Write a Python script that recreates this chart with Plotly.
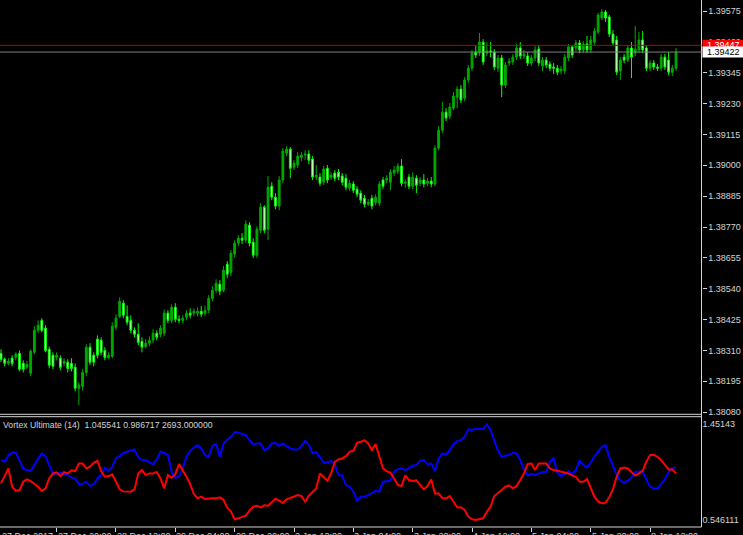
import plotly.graph_objects as go

W, H = 743, 535

# ---------------- data (EURUSD-like price) ----------------
opens = [1.38299,1.38277,1.38262,1.38281,1.38284,1.38299,1.38262,1.38247,1.38225,1.38303,
1.38385,1.38422,1.38393,1.38314,1.38292,1.38284,1.38281,1.38262,1.38266,1.38262,
1.38247,1.38169,1.38176,1.38228,1.38322,1.38292,1.38352,1.38348,1.38310,1.38284,
1.38288,1.38396,1.38437,1.38486,1.38437,1.38422,1.38385,1.38370,1.38344,1.38325,
1.38337,1.38348,1.38374,1.38370,1.38374,1.38449,1.38422,1.38471,1.38426,1.38422,
1.38434,1.38449,1.38449,1.38449,1.38456,1.38449,1.38460,1.38504,1.38534,1.38557,
1.38534,1.38631,1.38601,1.38669,1.38710,1.38728,1.38721,1.38777,1.38713,1.38665,
1.38758,1.38844,1.38762,1.38922,1.38881,1.38848,1.38945,1.39045,1.39060,1.38993,
1.39001,1.39030,1.39038,1.39042,1.39023,1.38956,1.38956,1.38937,1.38989,1.38956,
1.38971,1.38974,1.38960,1.38952,1.38915,1.38930,1.38911,1.38896,1.38877,1.38855,
1.38877,1.38862,1.38859,1.38945,1.38945,1.38937,1.38971,1.38978,1.38997,1.38933,
1.38956,1.38922,1.38952,1.38933,1.38945,1.38933,1.38941,1.38930,1.39064,1.39131,
1.39198,1.39183,1.39213,1.39254,1.39284,1.39250,1.39318,1.39362,1.39422,1.39418,
1.39459,1.39418,1.39426,1.39422,1.39362,1.39400,1.39299,1.39381,1.39385,1.39403,
1.39437,1.39407,1.39407,1.39381,1.39400,1.39433,1.39370,1.39392,1.39377,1.39366,
1.39362,1.39351,1.39351,1.39400,1.39441,1.39437,1.39456,1.39430,1.39452,1.39430,
1.39459,1.39497,1.39549,1.39571,1.39553,1.39489,1.39467,1.39351,1.39403,1.39392,
1.39437,1.39418,1.39430,1.39467,1.39437,1.39362,1.39381,1.39366,1.39362,1.39403,
1.39392,1.39347,1.39362]

highs = [1.38314,1.38284,1.38281,1.38292,1.38303,1.38310,1.38273,1.38270,1.38314,1.38400,
1.38422,1.38430,1.38404,1.38325,1.38303,1.38303,1.38292,1.38281,1.38277,1.38281,
1.38262,1.38191,1.38240,1.38333,1.38337,1.38303,1.38366,1.38359,1.38322,1.38303,
1.38415,1.38445,1.38508,1.38497,1.38478,1.38441,1.38396,1.38411,1.38359,1.38352,
1.38363,1.38389,1.38385,1.38404,1.38463,1.38460,1.38482,1.38486,1.38441,1.38441,
1.38460,1.38467,1.38467,1.38471,1.38475,1.38478,1.38516,1.38549,1.38575,1.38572,
1.38624,1.38643,1.38684,1.38721,1.38739,1.38747,1.38795,1.38788,1.38728,1.38773,
1.38859,1.38851,1.38960,1.38937,1.38896,1.38960,1.39064,1.39071,1.39068,1.39019,
1.39049,1.39049,1.39056,1.39056,1.39034,1.39001,1.38971,1.38997,1.39001,1.38974,
1.38982,1.38986,1.38971,1.38967,1.38945,1.38941,1.38922,1.38907,1.38889,1.38874,
1.38889,1.38892,1.38941,1.38956,1.38963,1.38986,1.38997,1.39008,1.39023,1.38948,
1.38967,1.38974,1.38963,1.38956,1.38967,1.38952,1.38956,1.39075,1.39146,1.39236,
1.39213,1.39232,1.39273,1.39295,1.39299,1.39329,1.39374,1.39430,1.39444,1.39493,
1.39470,1.39459,1.39459,1.39433,1.39411,1.39411,1.39385,1.39400,1.39415,1.39452,
1.39459,1.39430,1.39422,1.39411,1.39444,1.39448,1.39403,1.39403,1.39388,1.39381,
1.39374,1.39370,1.39415,1.39452,1.39448,1.39467,1.39467,1.39463,1.39482,1.39482,
1.39512,1.39568,1.39582,1.39579,1.39560,1.39504,1.39482,1.39403,1.39415,1.39448,
1.39459,1.39519,1.39497,1.39500,1.39448,1.39392,1.39392,1.39377,1.39415,1.39415,
1.39422,1.39374,1.39437]

lows = [1.38266,1.38251,1.38255,1.38251,1.38273,1.38232,1.38228,1.38240,1.38214,1.38296,
1.38374,1.38378,1.38303,1.38243,1.38240,1.38273,1.38236,1.38251,1.38228,1.38232,
1.38158,1.38105,1.38161,1.38214,1.38255,1.38251,1.38281,1.38292,1.38273,1.38277,
1.38281,1.38385,1.38430,1.38430,1.38404,1.38374,1.38359,1.38329,1.38303,1.38318,
1.38325,1.38337,1.38348,1.38359,1.38363,1.38411,1.38411,1.38415,1.38411,1.38411,
1.38422,1.38430,1.38437,1.38437,1.38434,1.38437,1.38449,1.38493,1.38523,1.38516,
1.38527,1.38579,1.38587,1.38657,1.38698,1.38706,1.38710,1.38698,1.38654,1.38654,
1.38747,1.38747,1.38721,1.38870,1.38836,1.38833,1.38933,1.39034,1.38952,1.38982,
1.38989,1.39015,1.39019,1.39004,1.38945,1.38945,1.38922,1.38926,1.38933,1.38945,
1.38941,1.38945,1.38926,1.38907,1.38904,1.38896,1.38881,1.38859,1.38844,1.38848,
1.38836,1.38851,1.38848,1.38911,1.38933,1.38907,1.38960,1.38967,1.38922,1.38918,
1.38911,1.38911,1.38896,1.38922,1.38918,1.38922,1.38918,1.38922,1.39056,1.39120,
1.39165,1.39172,1.39206,1.39213,1.39232,1.39239,1.39306,1.39351,1.39400,1.39407,
1.39374,1.39407,1.39403,1.39355,1.39347,1.39254,1.39288,1.39370,1.39374,1.39392,
1.39396,1.39396,1.39370,1.39370,1.39388,1.39370,1.39351,1.39362,1.39351,1.39340,
1.39336,1.39340,1.39340,1.39388,1.39400,1.39426,1.39418,1.39418,1.39418,1.39418,
1.39448,1.39489,1.39541,1.39534,1.39478,1.39444,1.39336,1.39318,1.39381,1.39385,
1.39325,1.39407,1.39418,1.39418,1.39351,1.39351,1.39355,1.39351,1.39351,1.39355,
1.39336,1.39333,1.39351]

closes = [1.38277,1.38262,1.38270,1.38262,1.38296,1.38240,1.38240,1.38258,1.38307,1.38385,
1.38404,1.38385,1.38310,1.38255,1.38251,1.38292,1.38247,1.38270,1.38243,1.38243,
1.38169,1.38180,1.38228,1.38322,1.38266,1.38266,1.38292,1.38303,1.38284,1.38292,
1.38400,1.38430,1.38493,1.38441,1.38415,1.38385,1.38370,1.38340,1.38322,1.38337,
1.38348,1.38374,1.38359,1.38393,1.38449,1.38422,1.38471,1.38426,1.38422,1.38430,
1.38449,1.38441,1.38456,1.38456,1.38445,1.38460,1.38504,1.38534,1.38560,1.38531,
1.38609,1.38594,1.38672,1.38710,1.38728,1.38721,1.38781,1.38710,1.38665,1.38762,
1.38844,1.38758,1.38918,1.38881,1.38848,1.38945,1.39053,1.39060,1.38989,1.39008,
1.39034,1.39038,1.39042,1.39019,1.38956,1.38963,1.38933,1.38986,1.38945,1.38963,
1.38952,1.38956,1.38937,1.38918,1.38933,1.38907,1.38892,1.38870,1.38855,1.38862,
1.38848,1.38881,1.38930,1.38922,1.38952,1.38974,1.38982,1.38997,1.38933,1.38937,
1.38922,1.38956,1.38926,1.38945,1.38930,1.38941,1.38930,1.39064,1.39131,1.39198,
1.39176,1.39217,1.39258,1.39284,1.39243,1.39318,1.39362,1.39418,1.39411,1.39459,
1.39385,1.39426,1.39422,1.39366,1.39400,1.39299,1.39374,1.39388,1.39403,1.39437,
1.39407,1.39415,1.39381,1.39400,1.39430,1.39381,1.39392,1.39374,1.39362,1.39362,
1.39347,1.39359,1.39403,1.39441,1.39411,1.39456,1.39430,1.39452,1.39430,1.39467,
1.39500,1.39560,1.39571,1.39549,1.39489,1.39456,1.39347,1.39392,1.39392,1.39437,
1.39403,1.39433,1.39467,1.39430,1.39362,1.39381,1.39366,1.39362,1.39403,1.39366,
1.39347,1.39362,1.39422]

vi_plus = [1.11202,1.09630,1.15916,1.18115,1.18430,1.10573,1.03030,1.01773,1.00830,1.06487,
1.12773,1.17487,1.14973,1.06487,0.98630,0.98630,0.99573,0.98630,0.96430,0.94859,
0.93916,0.88574,0.88574,0.90774,0.86688,0.88574,0.93602,0.97059,1.03973,1.00830,
1.04916,1.12773,1.14973,1.18115,1.19058,1.20001,1.21258,1.13716,1.11202,1.11202,
1.09002,1.07116,1.11830,1.19058,1.18115,1.15916,1.00202,0.94545,0.95488,1.03345,
1.14344,1.20001,1.22829,1.25344,1.22201,1.15916,1.14344,1.24715,1.26286,1.14344,
1.26915,1.30686,1.33200,1.37600,1.36971,1.36028,1.34771,1.30058,1.26286,1.26915,
1.26915,1.20630,1.22201,1.26915,1.27544,1.24715,1.26915,1.24401,1.22201,1.21258,
1.21258,1.24401,1.29429,1.25658,1.17487,1.18744,1.13402,1.09002,1.08688,1.10573,
1.06487,0.97059,0.96744,0.87631,0.86060,0.81346,0.72861,0.76632,0.76632,0.78203,
0.79774,0.82289,0.81346,0.90774,0.91402,0.91716,1.00202,1.02716,1.03345,1.01773,
1.03345,1.05859,1.06487,1.10573,1.11202,1.07430,1.08059,1.00830,1.12773,1.17487,
1.16544,1.20630,1.26286,1.29115,1.30058,1.33200,1.40428,1.39486,1.41058,1.40428,
1.40743,1.45143,1.39486,1.30058,1.20001,1.14344,1.14973,1.16230,1.18115,1.17487,
1.11202,1.02402,0.96744,0.98002,0.97059,0.98630,0.99887,1.00202,1.09630,1.12773,
0.99259,0.96116,0.98002,1.00830,0.98002,1.01773,1.10887,1.06487,1.04288,1.08688,
1.14973,1.19058,1.23772,1.25344,1.14344,1.05859,0.97059,0.92030,0.89831,0.91716,
0.94859,1.00202,1.00202,1.00202,0.92973,0.86060,0.84488,0.84488,0.88574,0.93287,
1.00202,1.03345,1.045541]

vi_minus = [0.89203,0.96116,1.03345,0.86060,0.82289,0.82917,0.90774,0.92973,0.91402,0.88574,
0.86060,0.81974,0.84488,0.93916,0.98630,0.99573,0.96116,0.99887,0.98630,1.01459,
1.00830,1.08059,1.08059,1.03345,1.04916,1.08688,1.10573,1.00830,0.95488,0.96116,
0.97687,0.90774,0.83546,0.81660,0.81346,0.81346,0.83546,0.98630,1.01773,0.97059,
0.98630,0.98630,0.99887,0.93916,0.84488,0.97059,0.94545,0.98002,1.07430,1.01773,
0.95488,0.88574,0.79146,0.75060,0.76632,0.74432,0.75060,0.75060,0.75060,0.76003,
0.73489,0.66261,0.62490,0.55262,0.56204,0.57776,0.58718,0.63432,0.67204,0.68146,
0.66575,0.68461,0.68146,0.71289,0.74746,0.72861,0.70661,0.74118,0.75689,0.77260,
0.78203,0.77260,0.71918,0.77575,0.81346,0.84488,0.98630,0.95488,0.91716,0.98630,
1.09630,1.11830,1.12773,1.14973,1.19058,1.20001,1.27544,1.28486,1.30058,1.26915,
1.20630,1.26286,1.14344,1.03345,1.00830,0.99259,0.93916,0.87631,0.86688,0.96744,
0.92345,0.91402,0.92030,0.87631,0.83546,0.86688,0.92973,0.79774,0.79774,0.75375,
0.75060,0.77260,0.71918,0.66575,0.66575,0.64061,0.57776,0.55262,0.546111,0.55262,
0.56204,0.62490,0.67204,0.77260,0.79774,0.82917,0.86060,0.87317,0.84488,0.86688,
0.92345,0.98630,1.07430,1.08059,1.01773,1.08059,1.08059,1.08059,1.03345,1.01773,
1.01144,1.00516,0.99887,0.98630,0.96744,0.95488,0.90774,0.90774,0.93287,0.85117,
0.76632,0.72232,0.70346,0.70975,0.76003,0.83860,0.95488,1.03345,1.04288,1.03345,
1.00202,0.96744,0.98630,1.01144,1.09630,1.15916,1.16230,1.14344,1.11202,1.06487,
1.02402,1.02402,0.986717]

price_ticks = [1.39575, 1.39460, 1.39345, 1.39230, 1.39115, 1.39000, 1.38885,
               1.38770, 1.38655, 1.38540, 1.38425, 1.38310, 1.38195, 1.38080]
sub_ticks = [1.45143, 0.546111]
sub_tick_text = ["1.45143", "0.546111"]
time_tick_bars = [15, 31, 47, 63, 79, 95, 111, 127, 143, 159, 175]
time_label_bars = [0, 15, 31, 47, 63, 79, 95, 111, 127, 143, 159, 175]
time_labels = ["27 Dec 2017", "27 Dec 20:00", "28 Dec 12:00", "29 Dec 04:00", "29 Dec 20:00",
               "2 Jan 12:00", "3 Jan 04:00", "3 Jan 20:00", "4 Jan 12:00", "5 Jan 04:00",
               "5 Jan 20:00", "8 Jan 12:00"]
bid_price = 1.39422
ask_price = 1.39447
indicator_name = "Vortex Ultimate (14)"
indicator_extra = 2693.0

bars = list(range(len(closes)))

# ---------------- layout geometry (pixels -> paper) ----------------
AXIS_X = 701.5 / W
MAIN_BOTTOM = 1 - 414.3 / H
SUB_TOP = 1 - 416.7 / H
SUB_BOTTOM = 1 - 527.0 / H
FG = "#d4d4d4"
FONT = "Liberation Sans"

fig = go.Figure()
fig.add_trace(go.Candlestick(
    x=bars, open=opens, high=highs, low=lows, close=closes,
    increasing=dict(line=dict(color="#00a800", width=1), fillcolor="#00a800"),
    decreasing=dict(line=dict(color="#00ff00", width=1), fillcolor="#d8ffd8"),
    whiskerwidth=0, xaxis="x", yaxis="y", showlegend=False, hoverinfo="skip"))
fig.add_trace(go.Scatter(x=bars, y=vi_plus, mode="lines", line=dict(color="#0000ff", width=2),
                         xaxis="x2", yaxis="y2", showlegend=False, hoverinfo="skip"))
fig.add_trace(go.Scatter(x=bars, y=vi_minus, mode="lines", line=dict(color="#ff0000", width=2),
                         xaxis="x2", yaxis="y2", showlegend=False, hoverinfo="skip"))

xr = [-0.27, 188.87]
fig.update_layout(
    width=W, height=H, margin=dict(l=0, r=0, t=0, b=0, autoexpand=False),
    paper_bgcolor="#000000", plot_bgcolor="#000000", showlegend=False,
    font=dict(family=FONT, size=9, color=FG),
    xaxis=dict(domain=[0, AXIS_X], range=xr, anchor="y", showticklabels=False, ticks="",
               automargin=False,
               showgrid=False, zeroline=False, showline=False, rangeslider=dict(visible=False)),
    yaxis=dict(domain=[MAIN_BOTTOM, 1], range=[1.38072, 1.39616], anchor="x", side="right",
               automargin=False,
               tickvals=price_ticks, ticktext=[f"{v:.5f}" for v in price_ticks],
               ticks="outside", ticklen=4, tickcolor=FG, tickfont=dict(size=9, color=FG, family=FONT),
               showgrid=False, zeroline=False, showline=False),
    xaxis2=dict(domain=[0, AXIS_X], range=xr, anchor="y2", tickvals=time_tick_bars,
                automargin=False,
                showticklabels=False, ticks="outside", ticklen=4, tickcolor=FG,
                showgrid=False, zeroline=False, showline=False),
    yaxis2=dict(domain=[SUB_BOTTOM, SUB_TOP], range=[0.48010, 1.52216], anchor="x2", side="right",
                automargin=False,
                tickvals=sub_ticks, ticktext=sub_tick_text, ticks="",
                tickfont=dict(size=9, color=FG, family=FONT),
                showgrid=False, zeroline=False, showline=False),
)

shapes = [
    # window borders
    dict(type="line", xref="paper", yref="paper", x0=0, x1=AXIS_X, y0=MAIN_BOTTOM, y1=MAIN_BOTTOM,
         line=dict(color=FG, width=1)),
    dict(type="line", xref="paper", yref="paper", x0=0, x1=AXIS_X, y0=SUB_TOP, y1=SUB_TOP,
         line=dict(color=FG, width=1)),
    dict(type="line", xref="paper", yref="paper", x0=0, x1=AXIS_X, y0=SUB_BOTTOM, y1=SUB_BOTTOM,
         line=dict(color=FG, width=1)),
    dict(type="line", xref="paper", yref="paper", x0=AXIS_X, x1=AXIS_X, y0=SUB_BOTTOM, y1=1,
         line=dict(color=FG, width=1)),
    # ask / bid lines
    dict(type="line", xref="paper", yref="y", x0=0, x1=AXIS_X, y0=ask_price, y1=ask_price,
         line=dict(color="#c00000", width=1)),
    dict(type="line", xref="paper", yref="y", x0=0, x1=AXIS_X, y0=bid_price, y1=bid_price,
         line=dict(color="#808080", width=1)),
    # price label boxes
    dict(type="rect", xref="paper", yref="y", x0=702.5 / W, x1=1, ysizemode="pixel",
         yanchor=ask_price, y0=-5.5, y1=5.5, fillcolor="#ff0000", line=dict(width=0)),
    dict(type="rect", xref="paper", yref="y", x0=702.5 / W, x1=1, ysizemode="pixel",
         yanchor=bid_price, y0=-5.5, y1=5.5, fillcolor="#ffffff", line=dict(width=0)),
]
fig.update_layout(shapes=shapes)

annotations = [
    dict(xref="paper", yref="y", x=705 / W, y=ask_price, xanchor="left", yanchor="middle",
         text=f"{ask_price:.5f}", showarrow=False, font=dict(size=9, color="#ffffff", family=FONT)),
    dict(xref="paper", yref="y", x=705 / W, y=bid_price, xanchor="left", yanchor="middle",
         text=f"{bid_price:.5f}", showarrow=False, font=dict(size=9, color="#000000", family=FONT)),
    dict(xref="paper", yref="paper", x=1 / W, y=1 - 425 / H, xanchor="left", yanchor="middle",
         text=f"{indicator_name}  {vi_plus[-1]:.6f} {vi_minus[-1]:.6f} {indicator_extra:.6f}",
         showarrow=False, font=dict(size=8.7, color=FG, family=FONT)),
]
for b, lab in zip(time_label_bars, time_labels):
    annotations.append(dict(xref="x2", yref="paper", x=b, y=1 - 530.2 / H, xanchor="left",
                            yanchor="top", text=lab, showarrow=False, borderpad=0,
                            font=dict(size=9, color=FG, family=FONT)))
fig.update_layout(annotations=annotations)

fig.write_html(
    "out.html",
    config={"displayModeBar": False, "staticPlot": True},
    post_script="document.body.style.margin='0';document.body.style.background='#000';"
                "document.body.style.overflow='hidden';",
)
